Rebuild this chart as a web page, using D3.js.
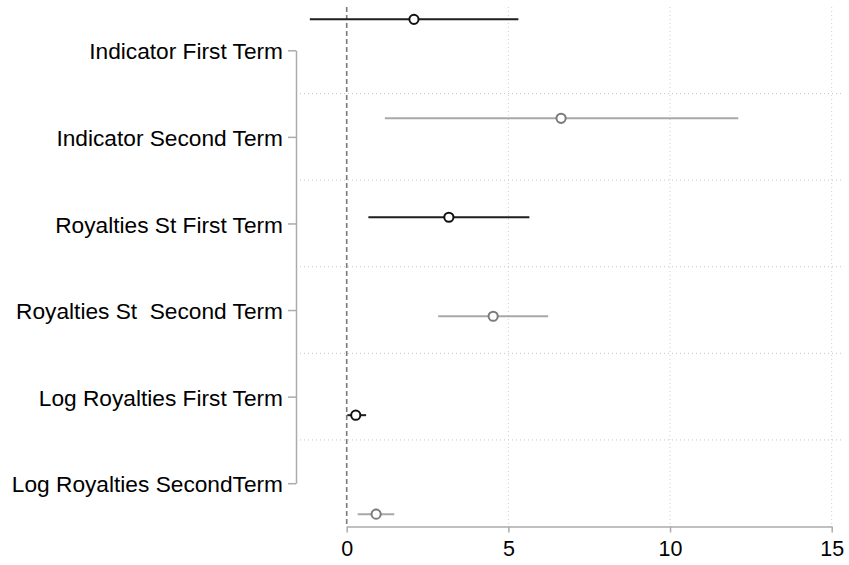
<!DOCTYPE html>
<html>
<head>
<meta charset="utf-8">
<script src="https://cdn.jsdelivr.net/npm/d3@7"></script>
<style>
  html, body { margin: 0; padding: 0; background: #fff; }
  svg { display: block; font-family: "Liberation Sans", Arial, Helvetica, sans-serif; }
  .cat { white-space: pre; }
</style>
</head>
<body>
<svg id="chart" width="849" height="565"></svg>
<script>
// Coefficient labels (left axis)
const terms = [
  "Indicator First Term",
  "Indicator Second Term",
  "Royalties St First Term",
  "Royalties St  Second Term",
  "Log Royalties First Term",
  "Log Royalties SecondTerm"
];
// Which term each coefficient belongs to (sets its colour)
const termGroup = ["first", "second", "first", "second", "first", "second"];
// Point estimates and confidence bounds
const estimates = [2.08, 6.63, 3.16, 4.53, 0.28, 0.91];
const lowerCI   = [-1.14, 1.18, 0.67, 2.83, 0.02, 0.34];
const upperCI   = [5.31, 12.11, 5.65, 6.23, 0.60, 1.47];
// Horizontal axis ticks
const xTicks = [0, 5, 10, 15];

const rows = terms.map((t, i) => ({
  term: t, group: termGroup[i], est: estimates[i], lo: lowerCI[i], hi: upperCI[i]
}));

const svg = d3.select("#chart");

const plotTop = 7, plotBottom = 526.5, plotLeft = 300, plotRight = 843;

const x = d3.scaleLinear().domain([0, 15]).range([346.7, 831.7]);

// Category labels sit at band centres; gridlines at band edges
const yBand = d3.scaleBand().domain(terms).range([plotTop, plotBottom]);
// Estimates are spread over the plot region with a small outer padding
const yPt = d3.scalePoint().domain(terms).range([plotTop, plotBottom]).padding(0.125);

const lineColor = { first: "#1e1e1e", second: "#a8a8a8" };
const markColor = { first: "#111111", second: "#7a7a7a" };

// Horizontal dotted gridlines between categories
svg.append("g")
  .selectAll("line")
  .data(terms.slice(1))
  .join("line")
  .attr("x1", plotLeft).attr("x2", plotRight)
  .attr("y1", d => yBand(d)).attr("y2", d => yBand(d))
  .attr("stroke", "#c4c4c4").attr("stroke-width", 1)
  .attr("stroke-dasharray", "1,3");

// Vertical dotted gridlines at non-zero ticks
svg.append("g")
  .selectAll("line")
  .data(xTicks.filter(v => v !== 0))
  .join("line")
  .attr("x1", d => x(d)).attr("x2", d => x(d))
  .attr("y1", plotTop).attr("y2", plotBottom)
  .attr("stroke", "#d0d0d0").attr("stroke-width", 1)
  .attr("stroke-dasharray", "1,3");

// Reference line at zero
svg.append("line")
  .attr("x1", x(0)).attr("x2", x(0))
  .attr("y1", plotTop).attr("y2", plotBottom)
  .attr("stroke", "#7a7a7a").attr("stroke-width", 1.6)
  .attr("stroke-dasharray", "5,3");

// Left category axis (bracket style)
const yAxis = d3.axisLeft(d3.scalePoint().domain(terms)
    .range([yBand(terms[0]) + yBand.bandwidth() / 2, yBand(terms[terms.length - 1]) + yBand.bandwidth() / 2]))
  .tickSizeInner(8).tickSizeOuter(0).tickPadding(5);
const gy = svg.append("g").attr("transform", "translate(296,0)").call(yAxis);
gy.select(".domain").attr("stroke", "#ababab").attr("stroke-width", 1.5);
gy.selectAll(".tick line").attr("stroke", "#ababab").attr("stroke-width", 1.5);
gy.selectAll(".tick text")
  .attr("class", "cat")
  .attr("fill", "#000")
  .style("font-size", "22.7px")
  .style("font-family", "'Liberation Sans', Arial, Helvetica, sans-serif")
  .attr("dy", "0.38em");

// Bottom value axis
const xAxis = d3.axisBottom(x).tickValues(xTicks).tickFormat(d3.format("d"))
  .tickSizeInner(6).tickSizeOuter(0).tickPadding(8);
const gx = svg.append("g").attr("transform", `translate(0,${plotBottom})`).call(xAxis);
gx.select(".domain").attr("stroke", "#ababab").attr("stroke-width", 1.5);
gx.selectAll(".tick line").attr("stroke", "#ababab").attr("stroke-width", 1.5);
gx.selectAll(".tick text")
  .attr("fill", "#000")
  .style("font-size", "21.5px")
  .style("font-family", "'Liberation Sans', Arial, Helvetica, sans-serif");

// Confidence intervals
svg.append("g")
  .selectAll("line")
  .data(rows)
  .join("line")
  .attr("x1", d => x(d.lo)).attr("x2", d => x(d.hi))
  .attr("y1", d => yPt(d.term)).attr("y2", d => yPt(d.term))
  .attr("stroke", d => lineColor[d.group]).attr("stroke-width", 2);

// Point estimates
svg.append("g")
  .selectAll("circle")
  .data(rows)
  .join("circle")
  .attr("cx", d => x(d.est)).attr("cy", d => yPt(d.term))
  .attr("r", 4.6)
  .attr("fill", "#fff")
  .attr("stroke", d => markColor[d.group]).attr("stroke-width", 2);
</script>
</body>
</html>
